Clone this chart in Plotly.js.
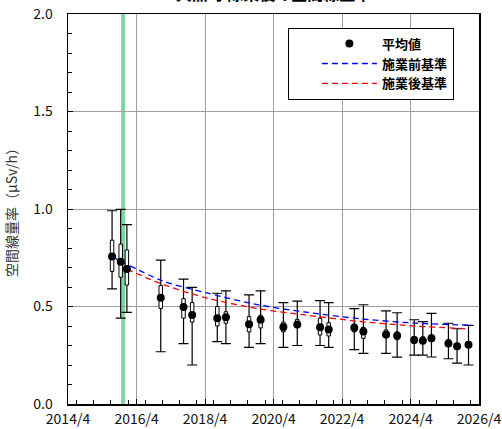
<!DOCTYPE html>
<html>
<head>
<meta charset="utf-8">
<script src="https://cdn.plot.ly/plotly-3.0.1.min.js"></script>
<style>html,body{margin:0;padding:0;background:#fff;}#chart{width:502px;height:429px;}</style>
</head>
<body>
<div id="chart"></div>
<script>
// ---- data ----
const dates = ['2015-07-15','2015-10-15','2015-12-20','2016-12-15','2017-08-15','2017-11-15',
  '2018-08-10','2018-11-10','2019-07-15','2019-11-15','2020-07-15','2020-12-10',
  '2021-08-10','2021-11-10','2022-08-10','2022-11-15','2023-07-15','2023-11-10',
  '2024-05-10','2024-08-10','2024-11-10','2025-05-10','2025-08-10','2025-12-10'];
const meanVals = [0.757,0.730,0.692,0.545,0.497,0.456,0.440,0.445,0.409,0.432,0.395,0.408,
  0.394,0.382,0.391,0.372,0.356,0.350,0.328,0.324,0.337,0.310,0.296,0.304];
const q3Vals = [0.84,0.82,0.79,0.607,0.54,0.52,0.50,0.473,0.448,0.455,0.42,0.434,
  0.44,0.417,0.41,0.393,0.38,0.37,0.345,0.345,0.355,0.33,0.31,0.32];
const q1Vals = [0.68,0.65,0.61,0.49,0.44,0.42,0.40,0.414,0.37,0.39,0.37,0.391,
  0.354,0.349,0.37,0.337,0.34,0.33,0.31,0.31,0.32,0.295,0.28,0.29];
const maxVals = [0.991,0.998,0.92,0.738,0.64,0.598,0.568,0.58,0.56,0.58,0.52,0.528,
  0.53,0.52,0.489,0.509,0.478,0.468,0.432,0.422,0.465,0.414,0.386,0.403];
const minVals = [0.59,0.44,0.47,0.268,0.31,0.20,0.32,0.31,0.29,0.31,0.29,0.30,
  0.30,0.29,0.279,0.26,0.26,0.24,0.251,0.251,0.241,0.232,0.21,0.20];

const preDates = ['2015-07-15','2017-01-01','2018-05-01','2019-11-10','2021-04-01','2022-10-15','2024-05-15','2025-12-31'];
const preVals  = [0.755,0.632,0.568,0.507,0.470,0.437,0.415,0.404];
const postDates = ['2015-12-20','2017-01-01','2018-05-01','2019-11-10','2021-04-01','2022-10-15','2024-05-15','2025-12-15'];
const postVals  = [0.692,0.614,0.542,0.487,0.455,0.423,0.400,0.386];

const constructionDate = '2015-11-10';
const yTickVals = [0, 0.5, 1.0, 1.5, 2.0];
const yTickText = ['0.0', '0.5', '1.0', '1.5', '2.0'];
const legendNames = ['平均値', '施業前基準', '施業後基準'];
const titleText = '大熊町 除染後の空間線量率';
const yTitle = '空間線量率（μSv/h）';

// ---- traces ----
const FONT = '"Noto Sans CJK JP", "Noto Sans", sans-serif';

const whiskers = {
  type: 'scatter', mode: 'markers', x: dates, y: meanVals,
  marker: {size: 1, color: 'rgba(0,0,0,0)'},
  error_y: {type: 'data', symmetric: false,
    array: maxVals.map((v, i) => v - meanVals[i]),
    arrayminus: meanVals.map((v, i) => v - minVals[i]),
    color: '#000', thickness: 1.2, width: 5},
  showlegend: false, hoverinfo: 'skip', xaxis: 'x', yaxis: 'y'
};
const preLine = {
  type: 'scatter', mode: 'lines', x: preDates, y: preVals, name: legendNames[1],
  line: {color: 'rgb(0,0,255)', dash: '6px,4px', width: 1.3, shape: 'spline', smoothing: 0.8},
  legendrank: 2, xaxis: 'x', yaxis: 'y'
};
const postLine = {
  type: 'scatter', mode: 'lines', x: postDates, y: postVals, name: legendNames[2],
  line: {color: 'rgb(255,0,0)', dash: '6px,4px', width: 1.3, shape: 'spline', smoothing: 0.8},
  legendrank: 3, xaxis: 'x', yaxis: 'y'
};
const boxes = {
  type: 'bar', x: dates, base: q1Vals, y: q3Vals.map((v, i) => v - q1Vals[i]),
  width: 3.2e9, marker: {color: '#fff', line: {color: '#000', width: 1}},
  showlegend: false, hoverinfo: 'skip', xaxis: 'x2', yaxis: 'y2'
};
const means = {
  type: 'scatter', mode: 'markers', x: dates, y: meanVals, name: legendNames[0],
  marker: {color: '#000', size: 8, symbol: 'circle'},
  legendrank: 1, xaxis: 'x2', yaxis: 'y2'
};

const xRange = ['2014-04-01', '2026-04-01'];
const layout = {
  width: 502, height: 429,
  margin: {l: 68, r: 23, t: 14, b: 25},
  paper_bgcolor: '#fff', plot_bgcolor: '#fff',
  font: {family: FONT, size: 14, color: '#111'},
  title: {text: titleText, font: {family: FONT, size: 16, color: '#000', weight: 'bold'},
    x: 0.5, xref: 'paper', yref: 'container', y: 0.999, yanchor: 'bottom'},
  showlegend: true,
  barmode: 'overlay',
  legend: {x: 0.535, xanchor: 'left', y: 0.965, yanchor: 'top', bgcolor: '#fff',
    bordercolor: '#000', borderwidth: 1, font: {family: FONT, size: 13, color: '#000', weight: 'bold'},
    indentation: 28, itemwidth: 55, tracegroupgap: 0, traceorder: 'normal'},
  xaxis: {type: 'date', range: xRange, tick0: '2014-04-01', dtick: 'M24', tickformat: '%Y/%-m',
    ticks: 'inside', ticklen: 5, tickcolor: '#000', showgrid: true, gridcolor: '#a0a0a0', gridwidth: 1,
    minor: {dtick: 'M6', ticks: 'inside', ticklen: 4, tickcolor: '#000', showgrid: false},
    showline: true, linecolor: '#000', linewidth: 1.5, mirror: true, zeroline: false,
    ticklabelstandoff: 2,
    tickfont: {family: FONT, size: 14, color: '#111'}},
  yaxis: {range: [0, 2], tickvals: yTickVals, ticktext: yTickText,
    ticks: 'inside', ticklen: 5, tickcolor: '#000', showgrid: true, gridcolor: '#a0a0a0', gridwidth: 1,
    minor: {dtick: 0.1, ticks: 'inside', ticklen: 4, tickcolor: '#000', showgrid: false},
    showline: true, linecolor: '#000', linewidth: 1.5, mirror: true, zeroline: false,
    ticklabelstandoff: 11,
    tickfont: {family: FONT, size: 14, color: '#111'},
    title: {text: yTitle, font: {family: FONT, size: 14, color: '#333'}, standoff: 12}},
  xaxis2: {type: 'date', range: xRange, overlaying: 'x', matches: 'x', anchor: 'y2', visible: false},
  yaxis2: {range: [0, 2], overlaying: 'y', matches: 'y', anchor: 'x2', visible: false},
  shapes: [{type: 'line', xref: 'x', yref: 'paper', x0: constructionDate, x1: constructionDate,
    y0: 0, y1: 1, line: {color: '#7fd6a3', width: 4}, layer: 'below'}]
};

Plotly.newPlot('chart', [whiskers, preLine, postLine, boxes, means], layout,
  {displayModeBar: false, staticPlot: true});
</script>
</body>
</html>
